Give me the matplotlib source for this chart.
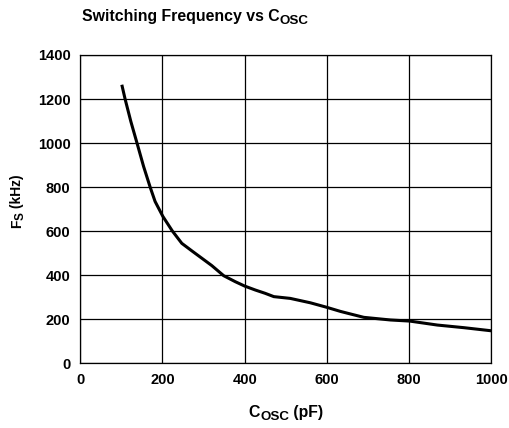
import matplotlib
matplotlib.use("Agg")
import matplotlib.pyplot as plt

# curve
cosc_pf = [101, 109, 123, 138, 154, 170, 182, 201, 224, 247, 272, 296, 320, 349, 377, 400,
           426, 450, 471, 511, 560, 599, 633, 656, 690, 755, 802, 869, 934, 1000]
fs_khz = [1265, 1200, 1098, 1000, 894, 800, 735, 667, 601, 545, 510, 477, 444, 398, 371, 351,
          333, 318, 303, 295, 275, 255, 236, 225, 209, 197, 192, 174, 162, 148]

x_ticks = [0, 200, 400, 600, 800, 1000]
y_ticks = [0, 200, 400, 600, 800, 1000, 1200, 1400]

plt.rcParams['font.family'] = ['Liberation Sans', 'DejaVu Sans']

W, H = 510, 428
fig = plt.figure(figsize=(W / 100, H / 100), dpi=100)
ax = fig.add_axes([0.1575, 0.151, 0.8055, 0.7205])

ax.plot(cosc_pf, fs_khz, color='black', lw=2.2, solid_capstyle='butt', solid_joinstyle='round')

ax.set_xlim(0, 1000)
ax.set_ylim(0, 1400)
ax.set_xticks(x_ticks)
ax.set_yticks(y_ticks)
ax.grid(True, color='black', lw=0.9)
ax.tick_params(length=0, labelsize=10.5, pad=7)
for s in ax.spines.values():
    s.set_linewidth(0.9)
for lbl in ax.get_xticklabels() + ax.get_yticklabels():
    lbl.set_fontweight('bold')

renderer = fig.canvas.get_renderer()


def label_with_sub(pos, parts, align='left', vertical=False):
    # parts: (text, size, drop_px); pos in pixels from top-left, at the baseline
    texts = []
    for txt, size, drop in parts:
        t = fig.text(0, 0, txt, fontsize=size, fontweight='bold', ha='left', va='baseline',
                     rotation=90 if vertical else 0, rotation_mode='anchor')
        texts.append((t, drop))
    lengths = []
    for t, _ in texts:
        bb = t.get_window_extent(renderer)
        lengths.append(bb.height if vertical else bb.width)
    total = sum(lengths)
    along = pos[1] if vertical else pos[0]
    if align == 'center':
        along = along + total / 2 if vertical else along - total / 2
    for (t, drop), length in zip(texts, lengths):
        if vertical:
            t.set_position(((pos[0] + drop) / W, 1 - along / H))
            along -= length
        else:
            t.set_position((along / W, 1 - (pos[1] + drop) / H))
            along += length


label_with_sub((82, 21), [('Switching Frequency vs C', 11.4, 0), ('OSC', 9.6, 3)])
label_with_sub((286, 417), [('C', 11.4, 0), ('OSC', 9.6, 3), (' (pF)', 11.4, 0)], align='center')
label_with_sub((21, 201), [('F', 10, 0), ('S', 8.5, 2.5), (' (kHz)', 10, 0)],
               align='center', vertical=True)

fig.savefig('out.png', dpi=100)
